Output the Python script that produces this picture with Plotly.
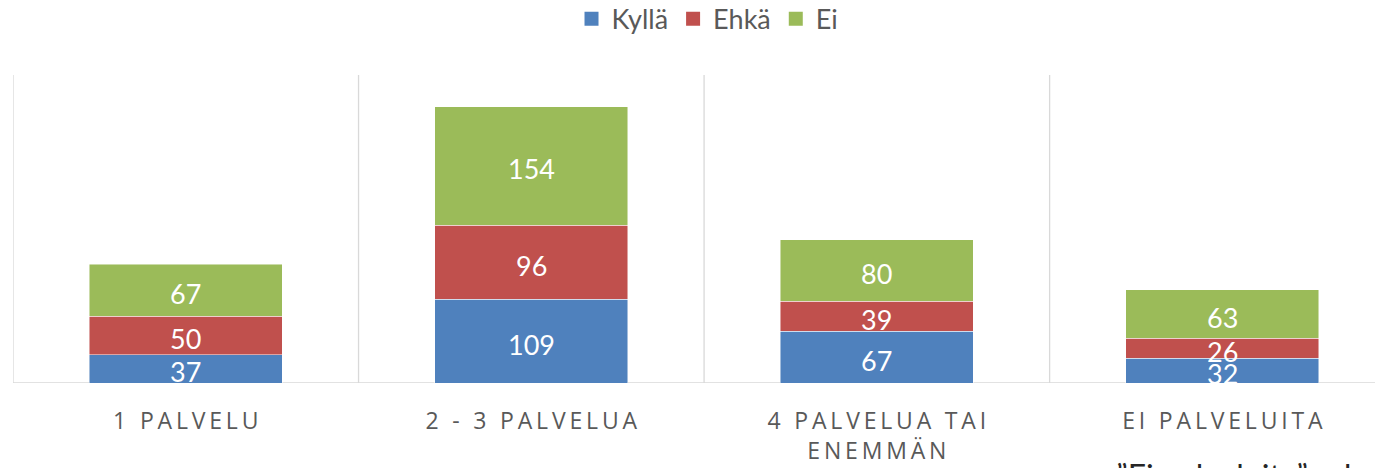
import plotly.graph_objects as go

categories = ["1 PALVELU", "2 - 3 PALVELUA", "4 PALVELUA TAI ENEMMÄN", "EI PALVELUITA"]
tick_labels = ["1 PALVELU", "2 - 3 PALVELUA", "4 PALVELUA TAI<br>ENEMMÄN", "EI PALVELUITA"]
kylla = [37, 109, 67, 32]
ehka = [50, 96, 39, 26]
ei = [67, 154, 80, 63]
series_names = ["Kyllä", "Ehkä", "Ei"]
colors = ["#4F81BD", "#C0504D", "#9BBB59"]
note_text = "\u201dEi palveluita\u201d ryhmä"


def spaced(s):
    # letter-spaced label (thin spaces between characters)
    return "<br>".join("\u2009".join(list(part)) for part in s.split("<br>"))


xs = list(range(len(categories)))
fig = go.Figure()
annotations = []
base = [0] * len(categories)
for name, vals, col in zip(series_names, [kylla, ehka, ei], colors):
    fig.add_trace(go.Bar(
        x=xs, y=vals, name=name, showlegend=False,
        marker=dict(color=col, line=dict(color="rgba(255,255,255,0.6)", width=0.8)),
        width=0.559, textposition="none", hoverinfo="y+name",
    ))
    # data labels centred on each segment
    for xi, b, v in zip(xs, base, vals):
        annotations.append(dict(
            x=xi, y=b + v / 2, xref="x", yref="y", text=str(v), showarrow=False,
            yshift=-3, font=dict(color="white", size=27, family="Lato"),
        ))
    base = [b + v for b, v in zip(base, vals)]

# legend entries (square markers)
for name, col in zip(series_names, colors):
    fig.add_trace(go.Scatter(
        x=[None], y=[None], mode="markers", name=name,
        marker=dict(symbol="square", size=14, color=col),
    ))

shapes = []
for xb in [-0.5, 0.5, 1.5, 2.5, 3.5]:
    shapes.append(dict(type="line", xref="x", yref="paper", x0=xb, x1=xb, y0=0, y1=1,
                       line=dict(color="#D9D9D9", width=1.3), layer="below"))
shapes.append(dict(type="line", xref="paper", yref="y", x0=0, x1=1, y0=0, y1=0,
                   line=dict(color="#D9D9D9", width=1.3), layer="below"))

annotations.append(dict(text=note_text, xref="paper", yref="paper",
                        x=(1106 - 5) / 1378, y=-0.2305, xanchor="left", yanchor="top",
                        showarrow=False, font=dict(size=32, family="Lato", color="#262626")))

fig.update_layout(
    width=1383, height=468,
    margin=dict(l=5, r=0, t=67, b=93, autoexpand=False),
    barmode="stack",
    plot_bgcolor="white", paper_bgcolor="white",
    shapes=shapes,
    legend=dict(orientation="h", x=0.504, xanchor="center", y=1.181, yref="paper",
                yanchor="middle", font=dict(size=27, family="Lato", color="#595959"),
                itemwidth=30, traceorder="normal", bgcolor="rgba(0,0,0,0)"),
    xaxis=dict(range=[-0.5, 3.488], tickvals=xs,
               ticktext=[spaced(t) for t in tick_labels], showgrid=False, zeroline=False,
               showline=False, ticks="", ticklabelstandoff=22,
               tickfont=dict(size=23, family="Open Sans", color="#595959")),
    yaxis=dict(range=[0, 400], showgrid=False, zeroline=False, showticklabels=False, showline=False),
    showlegend=True,
    annotations=annotations,
)

fig.write_html("out.html")
